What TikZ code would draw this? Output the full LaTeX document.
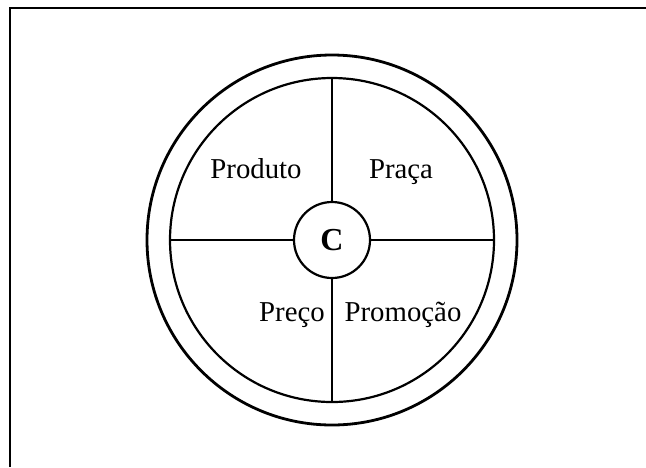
\documentclass[tikz,border=0pt]{standalone}
\usepackage{fontspec}
\setmainfont{Liberation Serif}
\usepackage{tikz}

\begin{document}
\begin{tikzpicture}[x=0.5pt, y=-0.5pt,
	every node/.style={font=\fontsize{14.4}{17}\selectfont},
	ring/.style={draw, circle, inner sep=0pt}]
	\useasboundingbox (0,0) rectangle (646,467);
	% frame, cut off on the right and at the bottom
	\draw[line width=1pt] (10,467) |- (646,8);
	\node[ring, line width=1.4pt, minimum size=185pt] (outer) at (332,240) {};
	\node[ring, line width=1.1pt, minimum size=162pt] (inner) at (332,240) {};
	\node[ring, line width=1.1pt, minimum size=38pt, font=\fontsize{16}{18}\selectfont\bfseries] (c) at (332,240) {C};
	\draw[line width=0.8pt] (c.north) -- (inner.north);
	\draw[line width=0.8pt] (c.south) -- (inner.south);
	\draw[line width=0.8pt] (c.west) -- (inner.west);
	\draw[line width=0.8pt] (c.east) -- (inner.east);
	\node[anchor=base] (produto) at (256,178) {Produto};
	\node[anchor=base] (praca) at (401,178) {Praça};
	\node[anchor=base] (preco) at (292,321) {Preço};
	\node[anchor=base] (promocao) at (403,321) {Promoção};
\end{tikzpicture}
\end{document}
